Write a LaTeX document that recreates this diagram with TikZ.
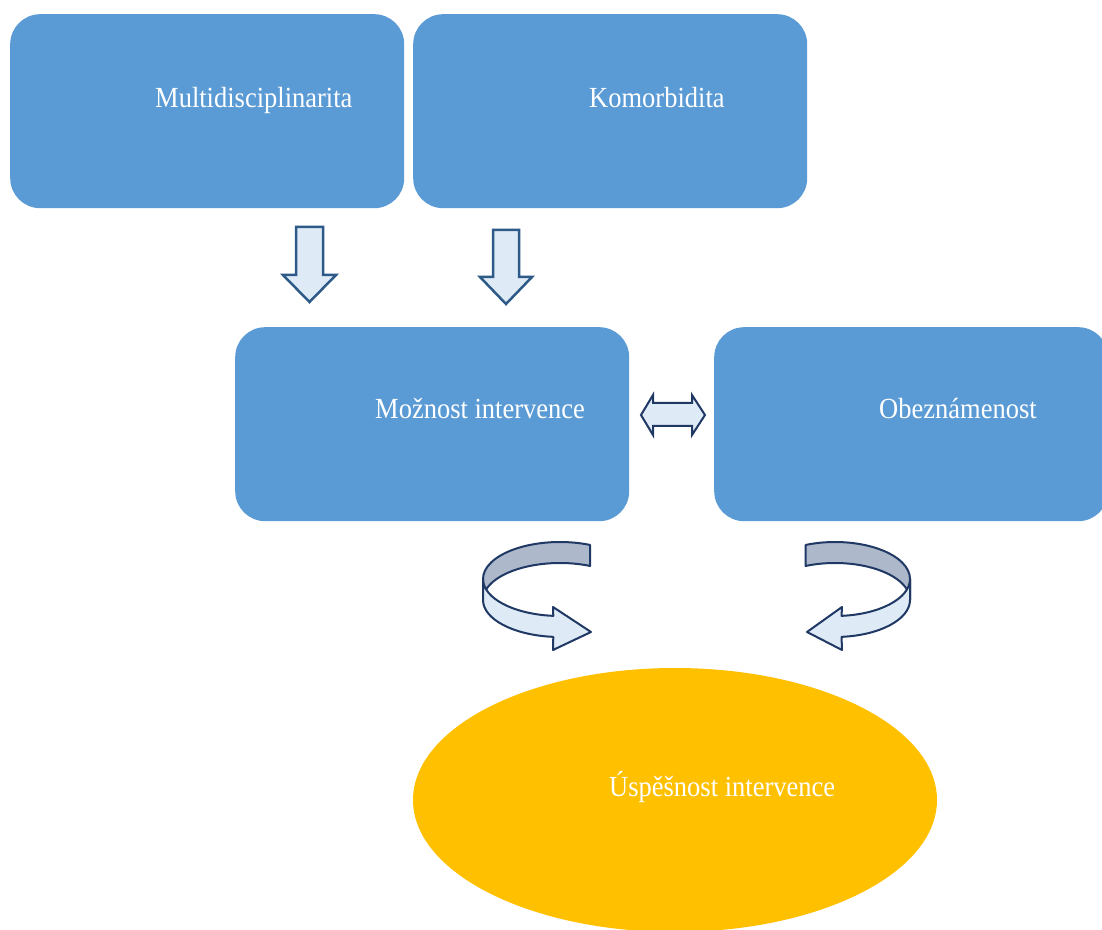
\documentclass[tikz,border=0pt]{standalone}
\usepackage{fontspec}
\setmainfont{Liberation Serif}
\usetikzlibrary{shapes.geometric}
\definecolor{boxblue}{HTML}{5B9BD5}
\definecolor{gold}{HTML}{FFC000}
\definecolor{lightfill}{HTML}{DEEBF7}
\definecolor{edgeblue}{HTML}{2E5A88}
\definecolor{navy}{HTML}{1F3864}
\definecolor{backgray}{HTML}{ADB9CA}
\newcommand{\sx}[1]{\scalebox{1}[1.1]{#1}}
\begin{document}
\begin{tikzpicture}[x=1pt,y=1pt]
\tikzset{
  box/.style={fill=boxblue, rounded corners=30pt, minimum width=394pt, minimum height=194pt, inner sep=0pt, anchor=north west},
  lbl/.style={text=white, anchor=base west, inner sep=0pt, font=\fontsize{26.5}{30}\selectfont},
  downarrow/.style={fill=lightfill, draw=edgeblue, line width=2.5pt, line join=miter},
  curvfront/.style={fill=lightfill, draw=navy, line width=2pt, line join=round},
  curvback/.style={fill=backgray, draw=navy, line width=2pt, line join=round},
  dblarrow/.style={fill=lightfill, draw=navy, line width=2pt, line join=miter},
  er/.style={x radius=77, y radius=37},
  err/.style={x radius=75, y radius=37}
}
\fill[white] (0,0) rectangle (1102,929);
\useasboundingbox (0,0) rectangle (1102,929);

% boxes
\node[box] (b1) at (10,915) {};
\node[box] (b2) at (413,915) {};
\node[box] (b3) at (235,602) {};
\node[box] (b4) at (714,602) {};
\node[ellipse, fill=gold, minimum width=524pt, minimum height=264pt, inner sep=0pt] (e) at (675,129) {};

% labels
\node[lbl] (t1) at (155,821.5) {\sx{Multidisciplinarita}};
\node[lbl] (t2) at (589,821.5) {\sx{Komorbidita}};
\node[lbl] (t3) at (375,510.5) {\sx{Možnost intervence}};
\node[lbl] (t4) at (879,510.5) {\sx{Obeznámenost}};
\node[lbl] (t5) at (609,132.5) {\sx{Úspěšnost intervence}};

% down arrows
\draw[downarrow] (296,702) -- (323,702) -- (323,654) -- (336,654) -- (309.5,627) -- (283,654) -- (296,654) -- cycle;
\draw[downarrow] (493,699) -- (519,699) -- (519,652) -- (532,652) -- (506,625) -- (480,652) -- (493,652) -- cycle;

% double arrow
\draw[dblarrow] (641,514) -- (653,534) -- (653,526) -- (692,526) -- (692,534) -- (705,514) -- (692,494) -- (692,503) -- (653,503) -- (653,494) -- cycle;

% left curved arrow
\draw[curvback] ({560+77*cos(67)},{350+37*sin(67)}) arc[start angle=67, end angle=180, er] -- ++(0,-21) arc[start angle=180, end angle=67, er] -- cycle;
\draw[curvfront] (483,350) arc[start angle=180, end angle=265, er] -- (553,322) -- (591,297) -- (553,279) -- ({560+77*cos(265)},{329+37*sin(265)}) arc[start angle=265, end angle=180, er] -- cycle;

% right curved arrow
\draw[curvback] ({835+75*cos(113)},{350+37*sin(113)}) arc[start angle=113, end angle=0, err] -- ++(0,-21) arc[start angle=0, end angle=113, err] -- cycle;
\draw[curvfront] (910,350) arc[start angle=0, end angle=-85, err] -- (842,322) -- (807,297) -- (842,279) -- ({835+75*cos(-85)},{329+37*sin(-85)}) arc[start angle=-85, end angle=0, err] -- cycle;
\end{tikzpicture}
\end{document}
